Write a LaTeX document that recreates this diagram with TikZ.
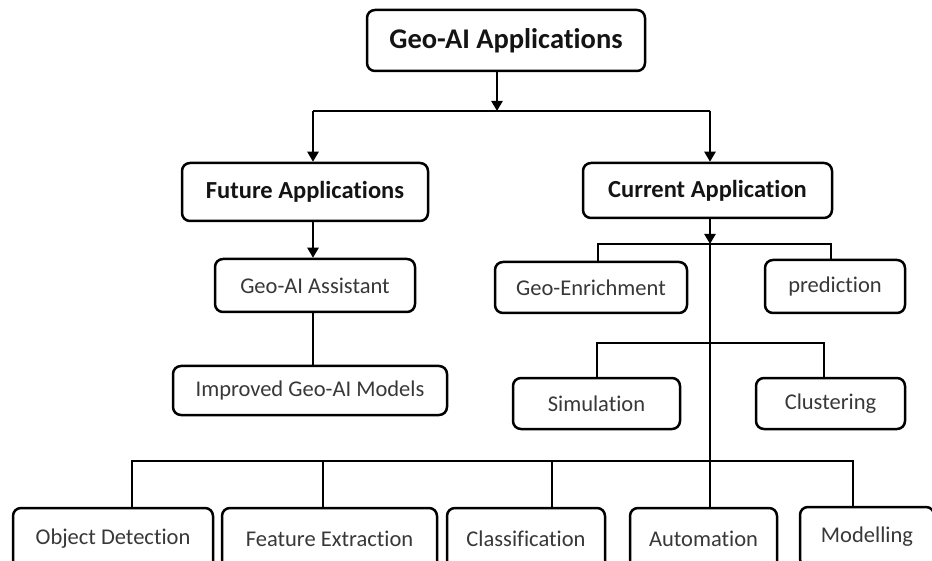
\documentclass[tikz,border=0pt]{standalone}
\usepackage{fontspec}
\setmainfont{Carlito}[Ligatures={NoCommon}]
\usetikzlibrary{arrows.meta}
\definecolor{boxtext}{HTML}{383838}
\tikzset{
  box/.style={draw=black, line width=2.5pt, rounded corners=8pt, fill=white,
    inner sep=0pt, align=center, text=boxtext,
    font=\fontsize{22.5}{26}\selectfont},
  headbox/.style={box, text=black!92, font=\bfseries\fontsize{24.5}{28}\selectfont},
  titlebox/.style={box, text=black!92, font=\bfseries\fontsize{28.5}{32}\selectfont},
  link/.style={draw=black, line width=2.3pt},
  arr/.style={link, -{Triangle[length=10pt,width=11pt]}},
}
\begin{document}
\begin{tikzpicture}[x=1pt, y=-1pt]
\useasboundingbox (0,0) rectangle (932,561);
\clip (0,0) rectangle (932,561);

% boxes
\node[titlebox, minimum width=278, minimum height=61] (top) at (506,40.5) {Geo-AI Applications};
\node[headbox, minimum width=246, minimum height=58] (fut) at (305,192) {Future Applications};
\node[headbox, minimum width=249, minimum height=55] (cur) at (707.5,190.5) {Current Application};
\node[box, minimum width=200, minimum height=53] (assist) at (315,285.5) {Geo-AI Assistant};
\node[box, minimum width=274, minimum height=49] (improved) at (310,390.5) {Improved Geo-AI Models};
\node[box, minimum width=192, minimum height=51] (geoenr) at (591,287.5) {Geo-Enrichment};
\node[box, minimum width=140, minimum height=53] (pred) at (835,286.5) {prediction};
\node[box, minimum width=167, minimum height=51] (sim) at (596.5,403.5) {Simulation};
\node[box, minimum width=149, minimum height=51] (clus) at (830.5,403.5) {Clustering};
\node[box, minimum width=200, minimum height=62] (objdet) at (113,539) {Object Detection};
\node[box, minimum width=215, minimum height=62] (featex) at (329.5,539) {Feature Extraction};
\node[box, minimum width=158, minimum height=62] (classif) at (526,539) {Classification};
\node[box, minimum width=147, minimum height=62] (autom) at (703.5,539) {Automation};
\node[box, minimum width=134, minimum height=60] (model) at (867,537) {Modelling};

% junction points
\coordinate (j0) at (497,111);
\coordinate (hL) at (313,111);
\coordinate (hR) at (710,111);
\coordinate (c1) at (710,244);
\coordinate (c1L) at (598,244);
\coordinate (c1R) at (831,244);
\coordinate (c2L) at (597,343);
\coordinate (c2R) at (824,343);
\coordinate (c3L) at (132,461);
\coordinate (c3R) at (853,461);
\coordinate (b2) at (323,461);
\coordinate (b3) at (552,461);

% top split
\draw[arr] (top.south -| j0) -- (j0);
\draw[link] (hL) -- (hR);
\draw[arr] (hL) -- (hL |- fut.north);
\draw[arr] (hR) -- (hR |- cur.north);

% future branch
\draw[arr] (fut.south -| hL) -- (assist.north -| hL);
\draw[link] (assist.south -| hL) -- (improved.north -| hL);

% current branch trunk
\draw[arr] (cur.south -| hR) -- (c1);
\draw[link] (c1) -- (autom.north -| c1);

% first level
\draw[link] (geoenr.north -| c1L) -- (c1L) -- (c1R) -- (pred.north -| c1R);
% second level
\draw[link] (sim.north -| c2L) -- (c2L) -- (c2R) -- (clus.north -| c2R);
% bottom level
\draw[link] (objdet.north -| c3L) -- (c3L) -- (c3R) -- (model.north -| c3R);
\draw[link] (b2) -- (featex.north -| b2);
\draw[link] (b3) -- (classif.north -| b3);
\end{tikzpicture}
\end{document}
